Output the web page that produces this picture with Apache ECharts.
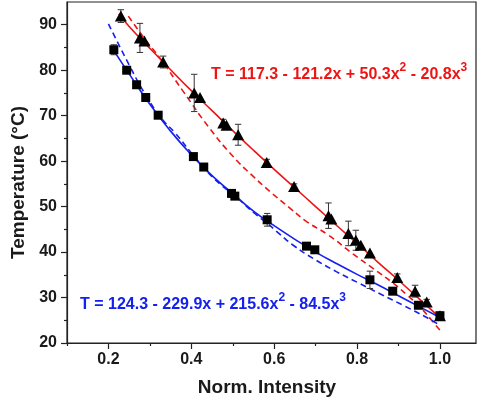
<!DOCTYPE html>
<html>
<head>
<meta charset="utf-8">
<script src="https://cdn.jsdelivr.net/npm/echarts@6/dist/echarts.min.js"></script>
<style>
html,body{margin:0;padding:0;background:#fff;}
#chart{width:477px;height:402px;}
</style>
</head>
<body>
<div id="chart"></div>
<script>
// ---- data ----
var triX   = [0.230, 0.276, 0.287, 0.332, 0.407, 0.421, 0.477, 0.485, 0.513, 0.582, 0.648, 0.731, 0.738, 0.779, 0.797, 0.809, 0.831, 0.897, 0.940, 0.968, 1.000];
var triT   = [91.9, 87.1, 86.4, 81.8, 75.0, 74.0, 68.4, 67.9, 65.8, 59.7, 54.4, 48.0, 47.3, 44.1, 42.6, 41.5, 39.8, 34.4, 31.4, 29.0, 26.0];
var triErr = [1.4, 3.2, 0, 1.3, 4.1, 0, 0.8, 0, 2.3, 0.7, 0.6, 2.8, 0, 2.7, 2.2, 0, 0, 0.8, 1.3, 0.6, 0.8];

var sqX   = [0.213, 0.244, 0.268, 0.290, 0.320, 0.405, 0.430, 0.497, 0.505, 0.583, 0.678, 0.698, 0.831, 0.886, 0.948, 1.000];
var sqT   = [84.5, 80.0, 76.8, 74.0, 70.1, 61.0, 58.7, 52.9, 52.3, 47.1, 41.3, 40.5, 33.9, 31.4, 28.3, 26.0];
var sqErr = [1.1, 0, 0, 0, 0, 0, 0, 0, 0, 1.4, 0, 0, 1.9, 0, 0, 0];

var redFitX = [0.225, 0.25, 0.3, 0.35, 0.4, 0.45, 0.5, 0.55, 0.6, 0.65, 0.7, 0.75, 0.8, 0.85, 0.9, 0.95, 1.0];
var redFitT = [92.4, 89.6, 84.8, 80.1, 75.5, 71.1, 66.7, 62.4, 58.2, 54.1, 50.0, 45.9, 41.9, 37.8, 33.8, 29.7, 25.6];

var blueFitX = [0.213, 0.25, 0.3, 0.35, 0.4, 0.45, 0.5, 0.55, 0.6, 0.65, 0.7, 0.75, 0.8, 0.85, 0.9, 0.95, 1.0];
var blueFitT = [84.3, 79.2, 72.5, 66.6, 61.4, 56.8, 52.9, 49.0, 45.8, 42.8, 40.0, 37.5, 35.1, 32.8, 30.4, 28.0, 25.6];

var redDashX = [0.248, 0.29, 0.324, 0.38, 0.441, 0.501, 0.55, 0.59, 0.64, 0.68, 0.73, 0.79, 0.84, 0.888, 0.92, 0.952, 0.98, 1.0];
var redDashT = [91.9, 86.6, 82.7, 75.4, 67.6, 61.0, 56.6, 53.3, 49.5, 46.6, 43.8, 39.6, 36.3, 33.1, 30.6, 27.9, 25.0, 22.8];

var blueDashX = [0.2, 0.252, 0.292, 0.33, 0.361, 0.40, 0.45, 0.517, 0.55, 0.582, 0.614, 0.646, 0.694, 0.75, 0.806, 0.86, 0.911, 0.968, 1.0];
var blueDashT = [90.2, 80.8, 74.2, 69.2, 66.2, 61.8, 56.6, 51.4, 48.7, 46.4, 43.9, 41.5, 38.6, 35.7, 33.1, 30.6, 28.3, 25.6, 23.9];

var xMajorTicks = [0.2, 0.4, 0.6, 0.8, 1.0];
var xMinorTicks = [0.1, 0.3, 0.5, 0.7, 0.9];
var yMajorTicks = [20, 30, 40, 50, 60, 70, 80, 90];
var yMinorTicks = [25, 35, 45, 55, 65, 75, 85];

var xTitle = 'Norm. Intensity';
var yTitle = 'Temperature (\u00B0C)';
var redEq  = ['T = 117.3 - 121.2x + 50.3x', '2', ' - 20.8x', '3'];
var blueEq = ['T = 124.3 - 229.9x + 215.6x', '2', ' - 84.5x', '3'];

// ---- build ----
function zip(a, b) { return a.map(function (v, i) { return [v, b[i]]; }); }
function errData(xs, ts, es) {
  var out = [];
  xs.forEach(function (x, i) { if (es[i] > 0) out.push([x, ts[i] - es[i], ts[i] + es[i]]); });
  return out;
}

var RED = '#ee1414';
var BLUE = '#1420ee';
var FONT = '"Liberation Sans", Arial, Helvetica, sans-serif';
var AX = '#222';

function errRender(params, api) {
  var x = api.value(0), lo = api.value(1), hi = api.value(2);
  var p1 = api.coord([x, hi]), p2 = api.coord([x, lo]);
  var w = 3.2;
  var st = { stroke: '#333', lineWidth: 1 };
  return {
    type: 'group',
    children: [
      { type: 'line', shape: { x1: p1[0], y1: p1[1], x2: p2[0], y2: p2[1] }, style: st },
      { type: 'line', shape: { x1: p1[0] - w, y1: p1[1], x2: p1[0] + w, y2: p1[1] }, style: st },
      { type: 'line', shape: { x1: p2[0] - w, y1: p2[1], x2: p2[0] + w, y2: p2[1] }, style: st }
    ]
  };
}

function eqRich(parts, color) {
  return {
    text: '{a|' + parts[0] + '}{s|' + parts[1] + '}{a|' + parts[2] + '}{s|' + parts[3] + '}',
    rich: {
      a: { fontSize: 16, fontWeight: 'bold', fontFamily: FONT, fill: color, lineHeight: 20, verticalAlign: 'bottom' },
      s: { fontSize: 12, fontWeight: 'bold', fontFamily: FONT, fill: color, lineHeight: 12, verticalAlign: 'bottom', padding: [0, 0, 9, 0] }
    }
  };
}

var chart = echarts.init(document.getElementById('chart'), null, { renderer: 'canvas' });
var option = {
  animation: false,
  backgroundColor: '#fff',
  grid: { left: 67, right: 1, top: 2, bottom: 59, show: true, borderColor: AX, borderWidth: 1.2, backgroundColor: 'transparent' },
  xAxis: [
    {
      type: 'value', min: 0.1, max: 1.087, position: 'bottom',
      axisLine: { show: true, lineStyle: { color: AX, width: 1.2 } },
      axisTick: { show: true, customValues: xMajorTicks, length: 6, lineStyle: { color: AX, width: 1.2 } },
      axisLabel: { customValues: xMajorTicks, formatter: function (v) { return v.toFixed(1); },
        fontSize: 16, fontWeight: 'bold', fontFamily: FONT, color: '#1a1a1a', margin: 9 },
      splitLine: { show: false }
    },
    {
      type: 'value', min: 0.1, max: 1.087, position: 'top', offset: -341,
      axisLine: { show: false },
      axisTick: { show: true, inside: true, customValues: xMinorTicks, length: 3, lineStyle: { color: AX, width: 1.2 } },
      axisLabel: { show: false },
      splitLine: { show: false }
    }
  ],
  yAxis: [
    {
      type: 'value', min: 20, max: 95, interval: 10, position: 'left',
      axisLine: { show: true, lineStyle: { color: AX, width: 1.2 } },
      axisTick: { show: true, customValues: yMajorTicks, length: 6, lineStyle: { color: AX, width: 1.2 } },
      axisLabel: { customValues: yMajorTicks, fontSize: 16, fontWeight: 'bold', fontFamily: FONT, color: '#1a1a1a', margin: 10 },
      splitLine: { show: false }
    },
    {
      type: 'value', min: 20, max: 95, position: 'right', offset: -409,
      axisLine: { show: false },
      axisTick: { show: true, inside: true, customValues: yMinorTicks, length: 3, lineStyle: { color: AX, width: 1.2 } },
      axisLabel: { show: false },
      splitLine: { show: false }
    }
  ],
  series: [
    { type: 'line', data: zip(redDashX, redDashT), smooth: true, symbol: 'none',
      lineStyle: { color: RED, width: 1.6, type: [6, 4] }, z: 2 },
    { type: 'line', data: zip(blueDashX, blueDashT), smooth: true, symbol: 'none',
      lineStyle: { color: BLUE, width: 1.6, type: [6, 4] }, z: 2 },
    { type: 'line', data: zip(redFitX, redFitT), smooth: true, symbol: 'none',
      lineStyle: { color: RED, width: 1.6 }, z: 3 },
    { type: 'line', data: zip(blueFitX, blueFitT), smooth: true, symbol: 'none',
      lineStyle: { color: BLUE, width: 1.6 }, z: 3 },
    { type: 'custom', renderItem: errRender, data: errData(triX, triT, triErr), z: 4, encode: { x: 0, y: [1, 2] } },
    { type: 'custom', renderItem: errRender, data: errData(sqX, sqT, sqErr), z: 4, encode: { x: 0, y: [1, 2] } },
    { type: 'scatter', data: zip(triX, triT), symbol: 'triangle', symbolSize: [12, 11],
      itemStyle: { color: '#000', opacity: 1 }, z: 5 },
    { type: 'scatter', data: zip(sqX, sqT), symbol: 'rect', symbolSize: 9,
      itemStyle: { color: '#000', opacity: 1 }, z: 5 }
  ],
  graphic: [
    { type: 'text', x: 211, y: 73, style: Object.assign(eqRich(redEq, RED), { verticalAlign: 'middle', align: 'left' }) },
    { type: 'text', x: 80, y: 303, style: Object.assign(eqRich(blueEq, BLUE), { verticalAlign: 'middle', align: 'left' }) },
    { type: 'text', x: 267, y: 388, style: { text: xTitle, fontSize: 19, fontWeight: 'bold', fontFamily: FONT, fill: '#1a1a1a', align: 'center', verticalAlign: 'middle' } },
    { type: 'text', x: 18.5, y: 182.5, rotation: Math.PI / 2, style: { text: yTitle, fontSize: 19, fontWeight: 'bold', fontFamily: FONT, fill: '#1a1a1a', align: 'center', verticalAlign: 'middle' } }
  ]
};
chart.setOption(option);
</script>
</body>
</html>
